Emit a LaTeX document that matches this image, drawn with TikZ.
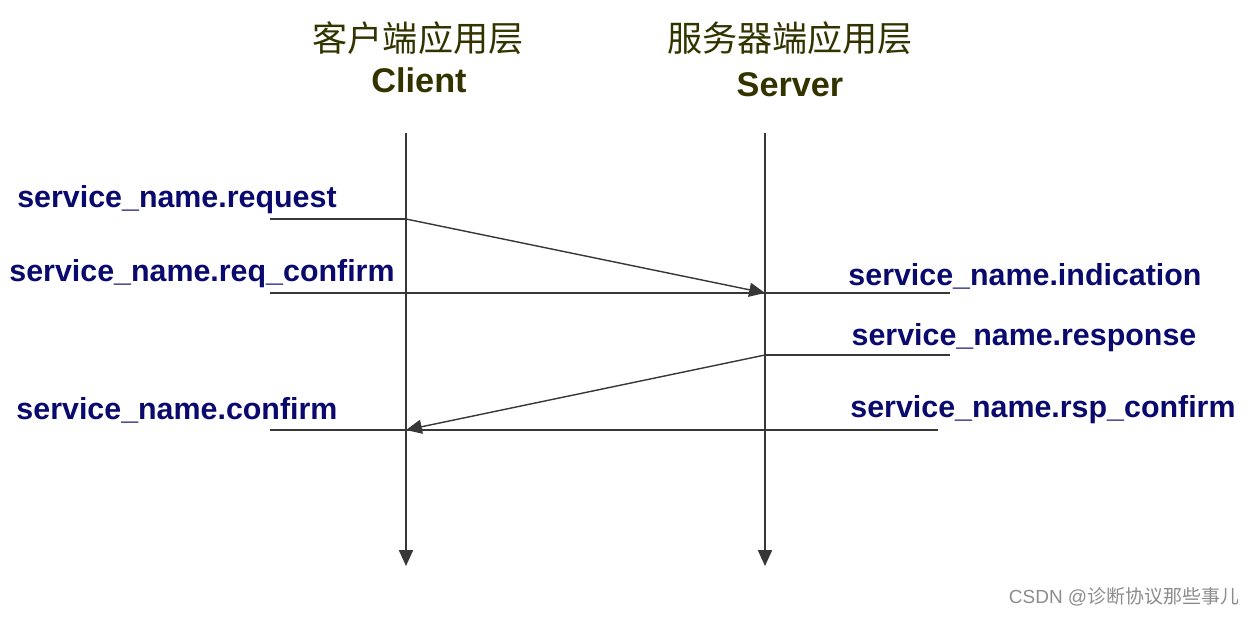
\documentclass[tikz,border=0pt]{standalone}
\usepackage{fontspec}
\setmainfont{Liberation Sans}
\newfontfamily\cjk{Noto Sans CJK SC}
\usetikzlibrary{arrows.meta, positioning}
\definecolor{primname}{RGB}{10,10,110}
\definecolor{layername}{RGB}{51,51,0}
\definecolor{wire}{RGB}{55,55,55}

\begin{document}
\begin{tikzpicture}[
        x=0.02cm, y=-0.02cm,
        prim/.style={font=\fontsize{17.3}{20}\selectfont\bfseries, text=primname, inner sep=0pt},
        layer/.style={font=\fontsize{20}{24}\selectfont\cjk, text=layername, inner sep=0pt},
        role/.style={font=\fontsize{19.5}{23}\selectfont\bfseries, text=layername, inner sep=0pt},
        wireline/.style={draw=wire, line width=0.8pt},
        msg/.style={wireline, -{Triangle[length=9pt, width=8pt]}}
    ]
    \useasboundingbox (0,0) rectangle (1255,616);

    % headers
    \node[layer] (clientcn) at (418,38) {客户端应用层};
    \node[role] (client) at (419,80) {Client};
    \node[layer] (servercn) at (790,38) {服务器端应用层};
    \node[role] (server) at (790,85) {Server};

    % lifelines
    \coordinate (ctop) at (406,133);
    \coordinate (cbot) at (406,566);
    \coordinate (stop) at (765,133);
    \coordinate (sbot) at (765,566);
    \draw[msg] (ctop) -- (cbot);
    \draw[msg] (stop) -- (sbot);

    % primitives
    \node[prim] (req) at (177,200) {service\_name.request};
    \node[prim] (reqcnf) at (202,274) {service\_name.req\_confirm};
    \node[prim] (ind) at (1025,276) {service\_name.indication};
    \node[prim] (rsp) at (1024,338) {service\_name.response};
    \node[prim] (cnf) at (177,410) {service\_name.confirm};
    \node[prim] (rspcnf) at (1043,410) {service\_name.rsp\_confirm};

    \coordinate (reqL) at (270,219);
    \coordinate (reqC) at (406,219);
    \coordinate (reqcnfL) at (270,293);
    \coordinate (indS) at (765,293);
    \coordinate (indR) at (950,293);
    \coordinate (rspS) at (765,355);
    \coordinate (rspR) at (950,355);
    \coordinate (cnfL) at (270,430);
    \coordinate (cnfC) at (406,430);
    \coordinate (rspcnfR) at (938,430);

    \draw[wireline] (reqL) -- (reqC);
    \draw[msg] (reqC) -- (indS);
    \draw[wireline] (reqcnfL) -- (indR);
    \draw[wireline] (rspS) -- (rspR);
    \draw[msg] (rspS) -- (cnfC);
    \draw[wireline] (cnfL) -- (rspcnfR);

    % watermark
    \node[font=\fontsize{10.8}{13}\selectfont, text=black!45, inner sep=0pt] (mark) at (1124,597) {CSDN @{\cjk 诊断协议那些事儿}};
\end{tikzpicture}
\end{document}
